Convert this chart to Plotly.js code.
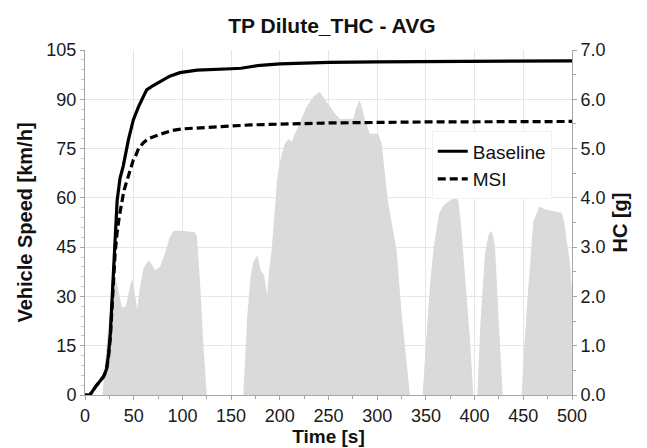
<!DOCTYPE html>
<html>
<head>
<meta charset="utf-8">
<script src="https://cdn.plot.ly/plotly-3.0.1.min.js"></script>
<style>html,body{margin:0;padding:0;background:#fff;}#chart{width:647px;height:448px;}</style>
</head>
<body>
<div id="chart"></div>
<script>
// Vehicle speed trace (grey area, left axis)
const speedTime = [0,18,23,27,32,35,38,42,46,48,50,53.7,56,60,65,68,72,77,82,87,91,100,110,113,115,118,121,125,
  162.5,166.6,170,172.8,177,180.4,183.8,186,187,189,191.6,195,197,200,205,209.4,212,217,222,227.3,235,241,246,251.5,257,261.8,270,275.5,278,281.6,284,287.5,292.6,301,304.6,311,320,325,332,333.5,
  346.6,350,354,358,363.4,368,375,380,383.3,386,390,395,398.7,
  402.8,406,410.7,414,416.8,419,421,424.4,428.8,
  448.3,451,455,460.3,466.4,470,474,480,489.4,491.8,495,498,500];
const speedValue = [0,0,18,30,35,31,26.6,27,33,35.5,33,26,32,38.5,41,40,38,39,43,48,50,50,49.6,49.5,48,35,18,0,
  0,24,36,40.5,42.5,38,36.5,33,30.4,38,44,57,65,71,76.5,78,77,80.5,84,87.6,91,92.2,90,87.6,85.5,84,84,84,87,89.7,88,83.6,79.5,79.5,76.5,59,44,25,4.6,0,
  0,15,33,45,55.2,57.7,59.3,60,59.3,52,38,18,0,
  0,22,43,48.5,50,48.5,45,24.8,0,
  0,15,32,52.7,57.4,56.8,56.4,56,55.5,53,46,40,31];

// Cumulative HC (right axis)
const baseTime = [0,5,12,19,22,24,26,29,31,33,36,39.3,44.5,48,49.6,55,60,63.3,70,77,87,97.5,115,150,160,170,180,200,250,300,400,500];
const baseHC   = [0,0,0.2,0.37,0.52,0.8,1.25,2.5,3.4,3.95,4.4,4.65,5.17,5.5,5.58,5.85,6.05,6.19,6.28,6.36,6.47,6.54,6.59,6.62,6.63,6.66,6.69,6.72,6.75,6.76,6.77,6.78];
const msiTime  = [0,5,12,19,22,24,26,29,31,33,35.2,40,45,49.6,51.3,55,60,65,77,90,100,130,170,250,350,500];
const msiHC    = [0,0,0.2,0.37,0.5,0.75,1.15,2.3,2.9,3.3,3.62,4.15,4.5,4.77,4.82,5.0,5.12,5.2,5.29,5.37,5.4,5.44,5.48,5.52,5.54,5.55];

const xTicks = [0,50,100,150,200,250,300,350,400,450,500];
const yTicks = [0,15,30,45,60,75,90,105];
const y2Ticks = [0,1,2,3,4,5,6,7];

const FONT = 'Liberation Sans, Arial, sans-serif';
const axisLine = '#a6a6a6';
const gridC = '#e6e6e6';

const traces = [
  {x: speedTime, y: speedValue, type: 'scatter', mode: 'lines', fill: 'tozeroy',
   fillcolor: 'rgb(218,218,218)', line: {width: 0, color: 'rgb(218,218,218)'}, showlegend: false, hoverinfo: 'skip', yaxis: 'y'},
  {x: baseTime, y: baseHC, type: 'scatter', mode: 'lines', name: 'Baseline',
   line: {color: '#000', width: 3.2}, yaxis: 'y2'},
  {x: msiTime, y: msiHC, type: 'scatter', mode: 'lines', name: 'MSI',
   line: {color: '#000', width: 3.2, dash: '8px,4px'}, yaxis: 'y2'}
];

const layout = {
  width: 647, height: 448,
  margin: {l: 85, r: 75, t: 50, b: 53},
  paper_bgcolor: '#fff', plot_bgcolor: '#fff',
  font: {family: FONT, color: '#1a1a1a'},
  title: {text: '<b>TP Dilute_THC - AVG</b>', font: {size: 21, family: FONT, color: '#111'},
          xref: 'container', yref: 'container', x: 0.513, y: 0.942, xanchor: 'center', yanchor: 'middle'},
  xaxis: {range: [0, 500], tickvals: xTicks, ticktext: xTicks.map(String),
    showgrid: true, gridcolor: gridC, zeroline: false,
    showline: true, linecolor: axisLine, linewidth: 1,
    ticks: 'outside', ticklen: 4, tickcolor: axisLine,
    minor: {dtick: 25, ticks: 'outside', ticklen: 3, tickcolor: axisLine, showgrid: false},
    tickfont: {size: 18, family: FONT, color: '#1a1a1a'},
    title: {text: '<b>Time [s]</b>', font: {size: 19, family: FONT, color: '#111'}, standoff: 2}},
  yaxis: {range: [0, 105], tickvals: yTicks, ticktext: yTicks.map(String),
    showgrid: true, gridcolor: gridC, zeroline: false,
    showline: true, linecolor: axisLine, linewidth: 1,
    ticks: 'outside', ticklen: 4, tickcolor: axisLine,
    minor: {dtick: 3, ticks: 'outside', ticklen: 3, tickcolor: '#c8c8c8', showgrid: false},
    tickfont: {size: 18, family: FONT, color: '#1a1a1a'},
    title: {text: '<b>Vehicle Speed [km/h]</b>', font: {size: 20, family: FONT, color: '#111'}, standoff: 8}},
  yaxis2: {range: [0, 7], tickvals: y2Ticks, ticktext: y2Ticks.map(v => v.toFixed(1)),
    overlaying: 'y', side: 'right', showgrid: false, zeroline: false,
    showline: true, linecolor: axisLine, linewidth: 1,
    ticks: 'outside', ticklen: 4, tickcolor: axisLine,
    minor: {dtick: 0.5, ticks: 'outside', ticklen: 3, tickcolor: axisLine, showgrid: false},
    tickfont: {size: 18, family: FONT, color: '#1a1a1a'},
    title: {text: '<b>HC [g]</b>', font: {size: 20, family: FONT, color: '#111'}, standoff: 8}},
  legend: {x: 0.712, y: 0.764, xanchor: 'left', yanchor: 'top', bgcolor: '#fff',
    bordercolor: '#f2f2f2', borderwidth: 1, itemwidth: 30, tracegroupgap: 0,
    font: {size: 19, family: FONT, color: '#111'}},
  showlegend: true
};

Plotly.newPlot('chart', traces, layout, {displayModeBar: false, staticPlot: true});
</script>
</body>
</html>
